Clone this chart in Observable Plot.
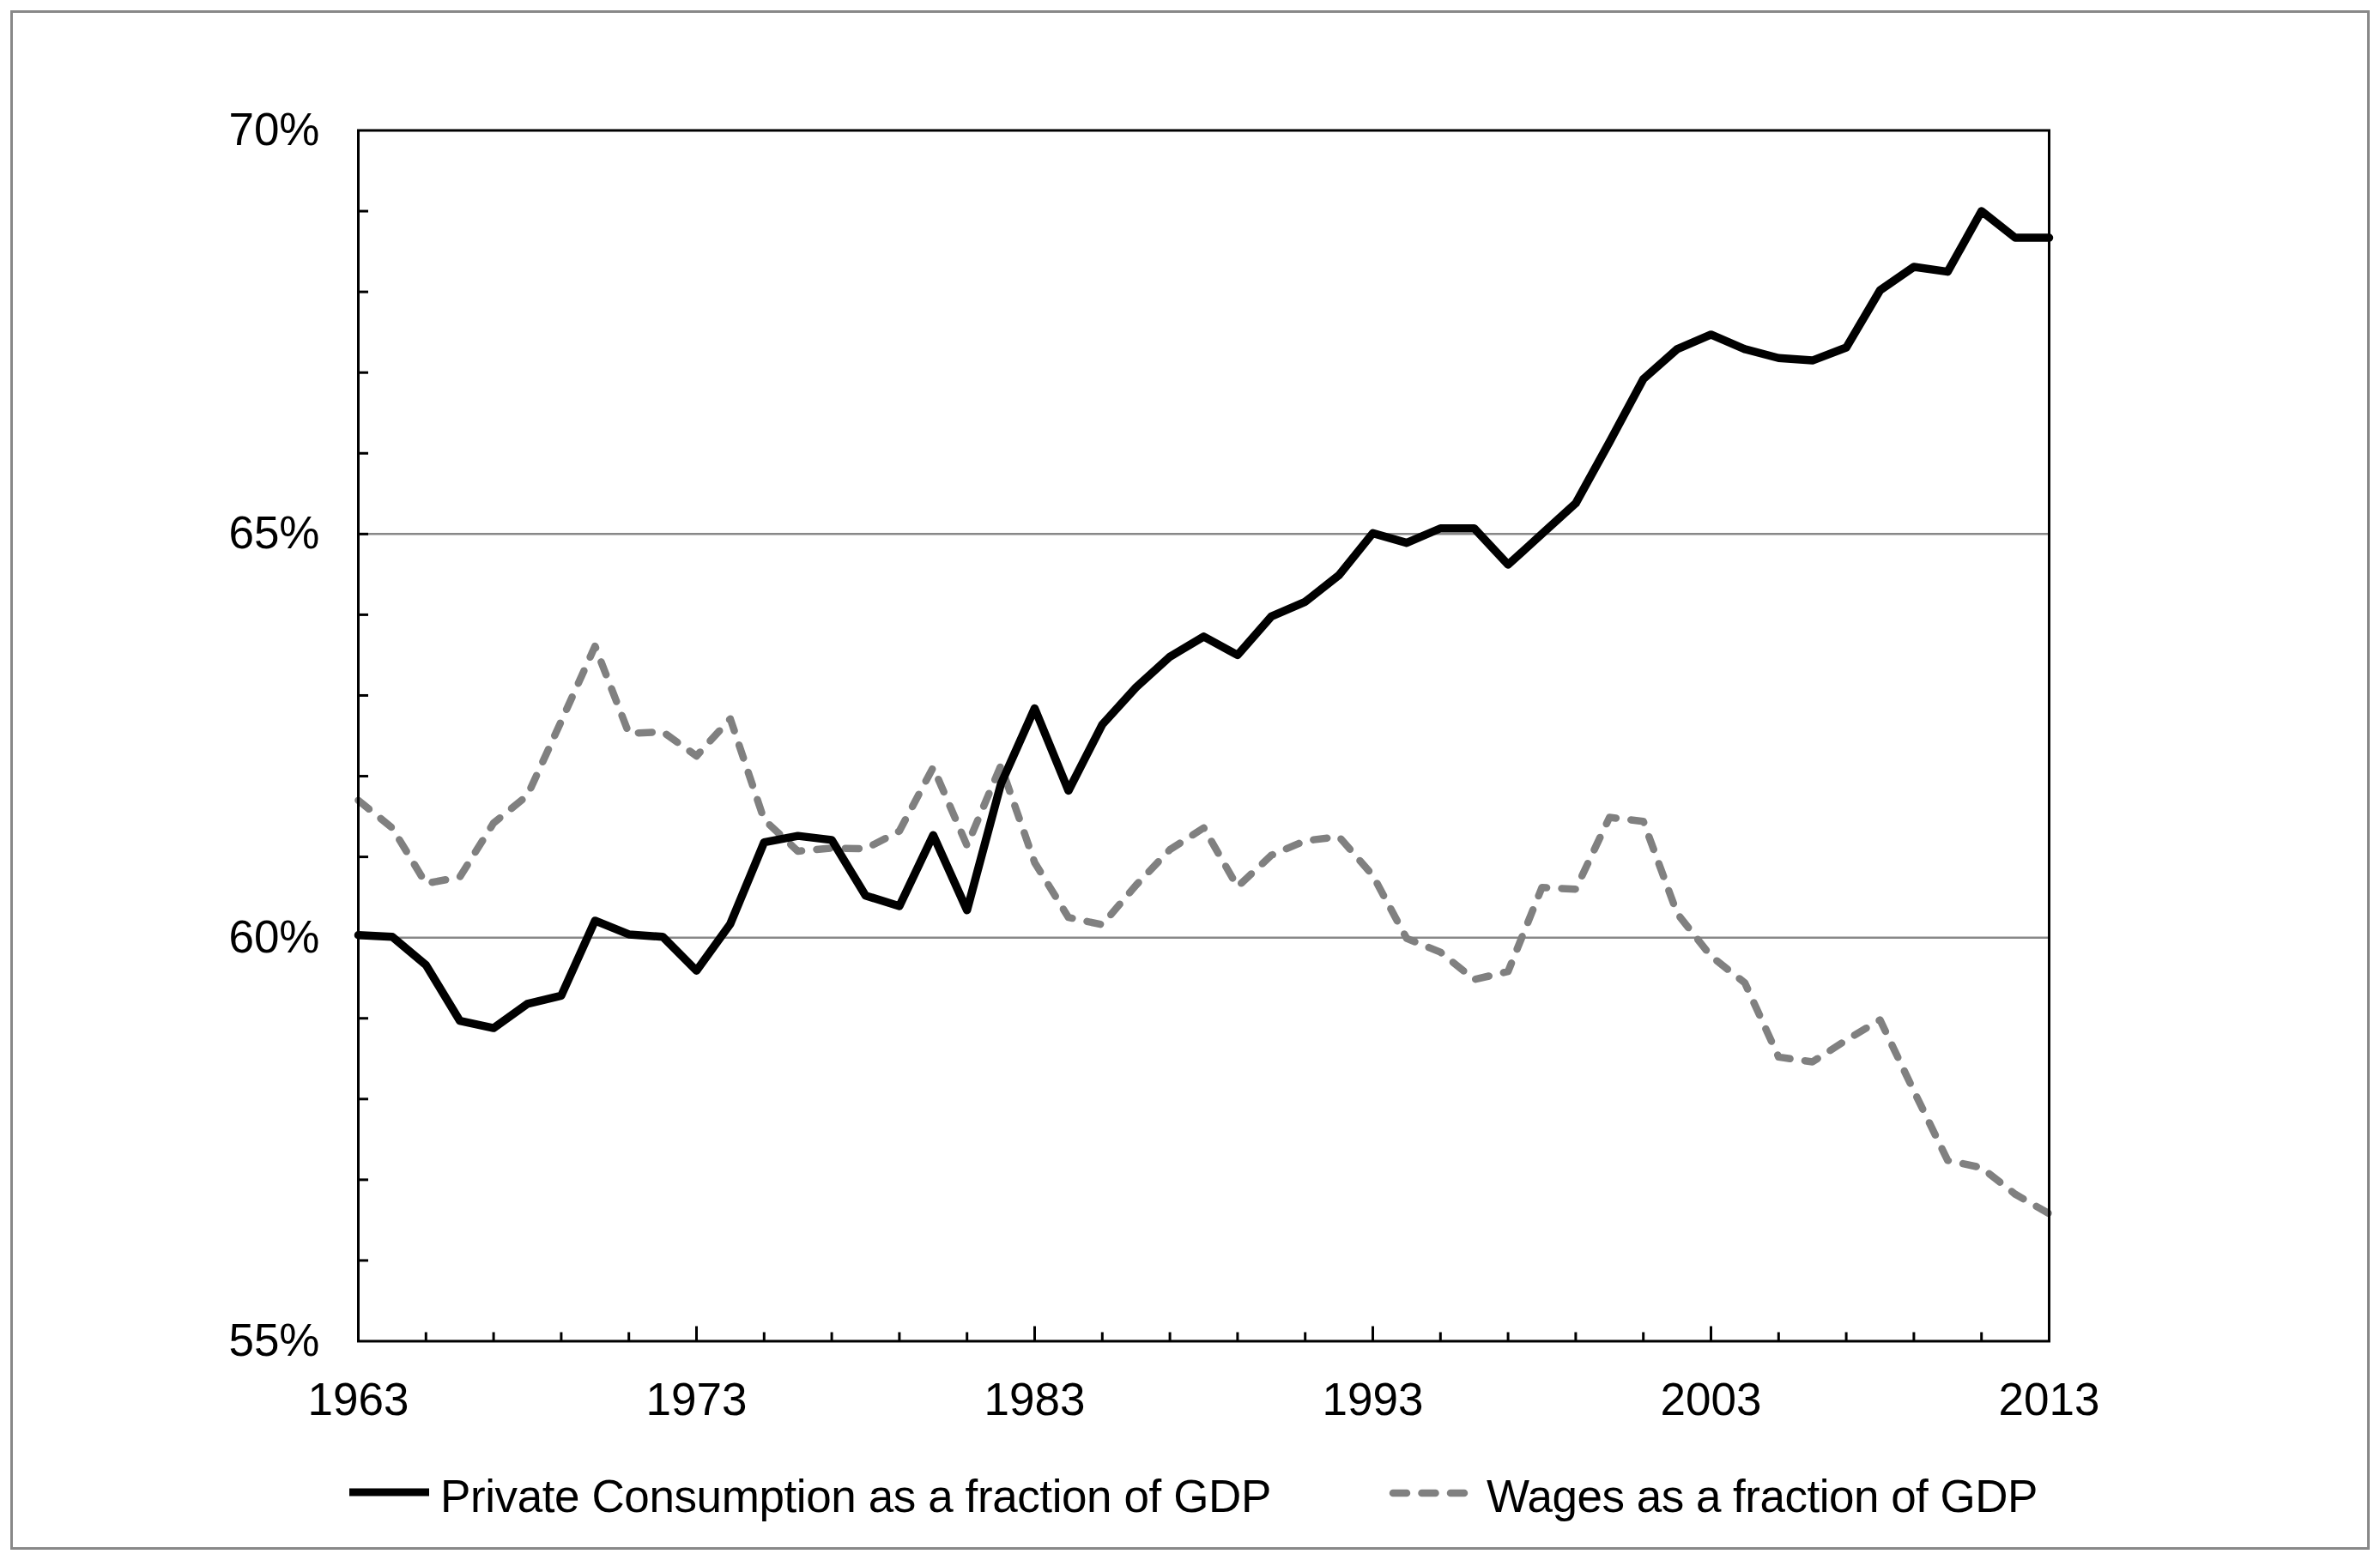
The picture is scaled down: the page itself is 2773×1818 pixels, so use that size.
<!DOCTYPE html>
<html>
<head>
<meta charset="utf-8">
<script src="https://cdn.jsdelivr.net/npm/d3@7"></script>
<script src="https://cdn.jsdelivr.net/npm/@observablehq/plot@0.6"></script>
<style>
  html, body { margin: 0; padding: 0; background: #fff; }
  #page { position: relative; width: 2773px; height: 1818px; overflow: hidden; background: #fff;
          font-family: "Liberation Sans", Arial, sans-serif; }
  #border { position: absolute; left: 12px; top: 12px; width: 2749px; height: 1794px;
            box-sizing: border-box; border: 3px solid #888; }
  #chart { position: absolute; left: 0; top: 0; }
  #legend { position: absolute; left: 0; top: 1700px; }
</style>
</head>
<body>
<div id="page">
  <div id="border"></div>
  <div id="chart"></div>
  <svg id="legend" width="2773" height="100"></svg>
</div>
<script>
// ---- data ----
const years = [1963,1964,1965,1966,1967,1968,1969,1970,1971,1972,
               1973,1974,1975,1976,1977,1978,1979,1980,1981,1982,
               1983,1984,1985,1986,1987,1988,1989,1990,1991,1992,
               1993,1994,1995,1996,1997,1998,1999,2000,2001,2002,
               2003,2004,2005,2006,2007,2008,2009,2010,2011,2012,2013];
const consumption = [60.03,60.01,59.66,58.97,58.88,59.18,59.28,60.21,60.04,60.01,
                     59.59,60.17,61.18,61.26,61.21,60.52,60.39,61.27,60.34,61.9,
                     62.84,61.82,62.64,63.10,63.48,63.73,63.50,63.98,64.16,64.49,
                     65.01,64.89,65.07,65.07,64.62,65.00,65.38,66.14,66.92,67.29,
                     67.47,67.29,67.18,67.15,67.31,68.02,68.31,68.25,69.00,68.67,68.67];
const wages = [61.70,61.36,60.67,60.75,61.42,61.76,62.68,63.61,62.53,62.55,
               62.25,62.71,61.46,61.07,61.11,61.10,61.32,62.11,61.14,62.13,
               60.93,60.25,60.16,60.65,61.09,61.36,60.63,61.02,61.20,61.25,
               60.77,59.99,59.82,59.48,59.58,60.62,60.60,61.49,61.44,60.30,
               59.77,59.44,58.52,58.46,58.73,58.98,58.10,57.24,57.15,56.82,56.58];
const seriesNames = ["Private Consumption as a fraction of GDP", "Wages as a fraction of GDP"];
const yTickLabels = [55, 60, 65, 70];
const yGridLines = [60, 65];
const yMinorTicks = [56,57,58,59,60,61,62,63,64,65,66,67,68,69];
const xTickLabels = [1963, 1973, 1983, 1993, 2003, 2013];
const xMajorTicks = [1973, 1983, 1993, 2003];
const xMinorTicks = [1965,1967,1969,1971,1975,1977,1979,1981,1985,1987,1989,1991,
                     1995,1997,1999,2001,2005,2007,2009,2011];

const consData = years.map((year, i) => ({year, value: consumption[i]}));
const wageData = years.map((year, i) => ({year, value: wages[i]}));

const FONT = '"Liberation Sans", Arial, sans-serif';

const chart = Plot.plot({
  width: 2773,
  height: 1700,
  marginLeft: 417,
  marginRight: 386,
  marginTop: 151.5,
  marginBottom: 137.5,
  x: {domain: [1963, 2013]},
  y: {domain: [55, 70]},
  style: {fontFamily: FONT, background: "transparent", color: "black", overflow: "visible"},
  marks: [
    Plot.ruleY(yGridLines, {stroke: "#888", strokeWidth: 2.5}),
    Plot.lineY(wageData, {x: "year", y: "value", stroke: "#808080", strokeWidth: 8.5,
                          strokeDasharray: "16,17.5", strokeLinecap: "round", strokeLinejoin: "round"}),
    Plot.lineY(consData, {x: "year", y: "value", stroke: "black", strokeWidth: 9.5,
                          strokeLinejoin: "round"}),
    Plot.frame({stroke: "black", strokeWidth: 3}),
    Plot.axisY(yMinorTicks, {tickSize: 12, dx: 12, fill: "none", tickFormat: () => "", label: null, strokeWidth: 3}),
    Plot.axisY(yTickLabels, {tickSize: 0, tickPadding: 45, tickFormat: d => d + "%", fontSize: 53, fill: "black", label: null}),
    Plot.axisX(xMinorTicks, {tickSize: 10, dy: -10, fill: "none", tickFormat: () => "", label: null, strokeWidth: 3}),
    Plot.axisX(xMajorTicks, {tickSize: 17, dy: -17, fill: "none", tickFormat: () => "", label: null, strokeWidth: 3}),
    Plot.axisX(xTickLabels, {tickSize: 0, tickPadding: 48, tickFormat: d => `${d}`, fontSize: 53, fill: "black", label: null})
  ]
});
document.getElementById("chart").appendChild(chart);

// ---- legend ----
const legend = d3.select("#legend");
legend.append("line").attr("x1", 407).attr("x2", 500).attr("y1", 39).attr("y2", 39)
  .attr("stroke", "black").attr("stroke-width", 9);
legend.append("text").attr("x", 513).attr("y", 62).attr("font-family", FONT)
  .attr("font-size", 53).attr("letter-spacing", "-0.4px").attr("fill", "black").text(seriesNames[0]);
legend.append("line").attr("x1", 1623).attr("x2", 1708).attr("y1", 40).attr("y2", 40)
  .attr("stroke", "#808080").attr("stroke-width", 8.5).attr("stroke-linecap", "round")
  .attr("stroke-dasharray", "16,17.5");
legend.append("text").attr("x", 1732).attr("y", 62).attr("font-family", FONT)
  .attr("font-size", 53).attr("letter-spacing", "-0.5px").attr("fill", "black").text(seriesNames[1]);
</script>
</body>
</html>
